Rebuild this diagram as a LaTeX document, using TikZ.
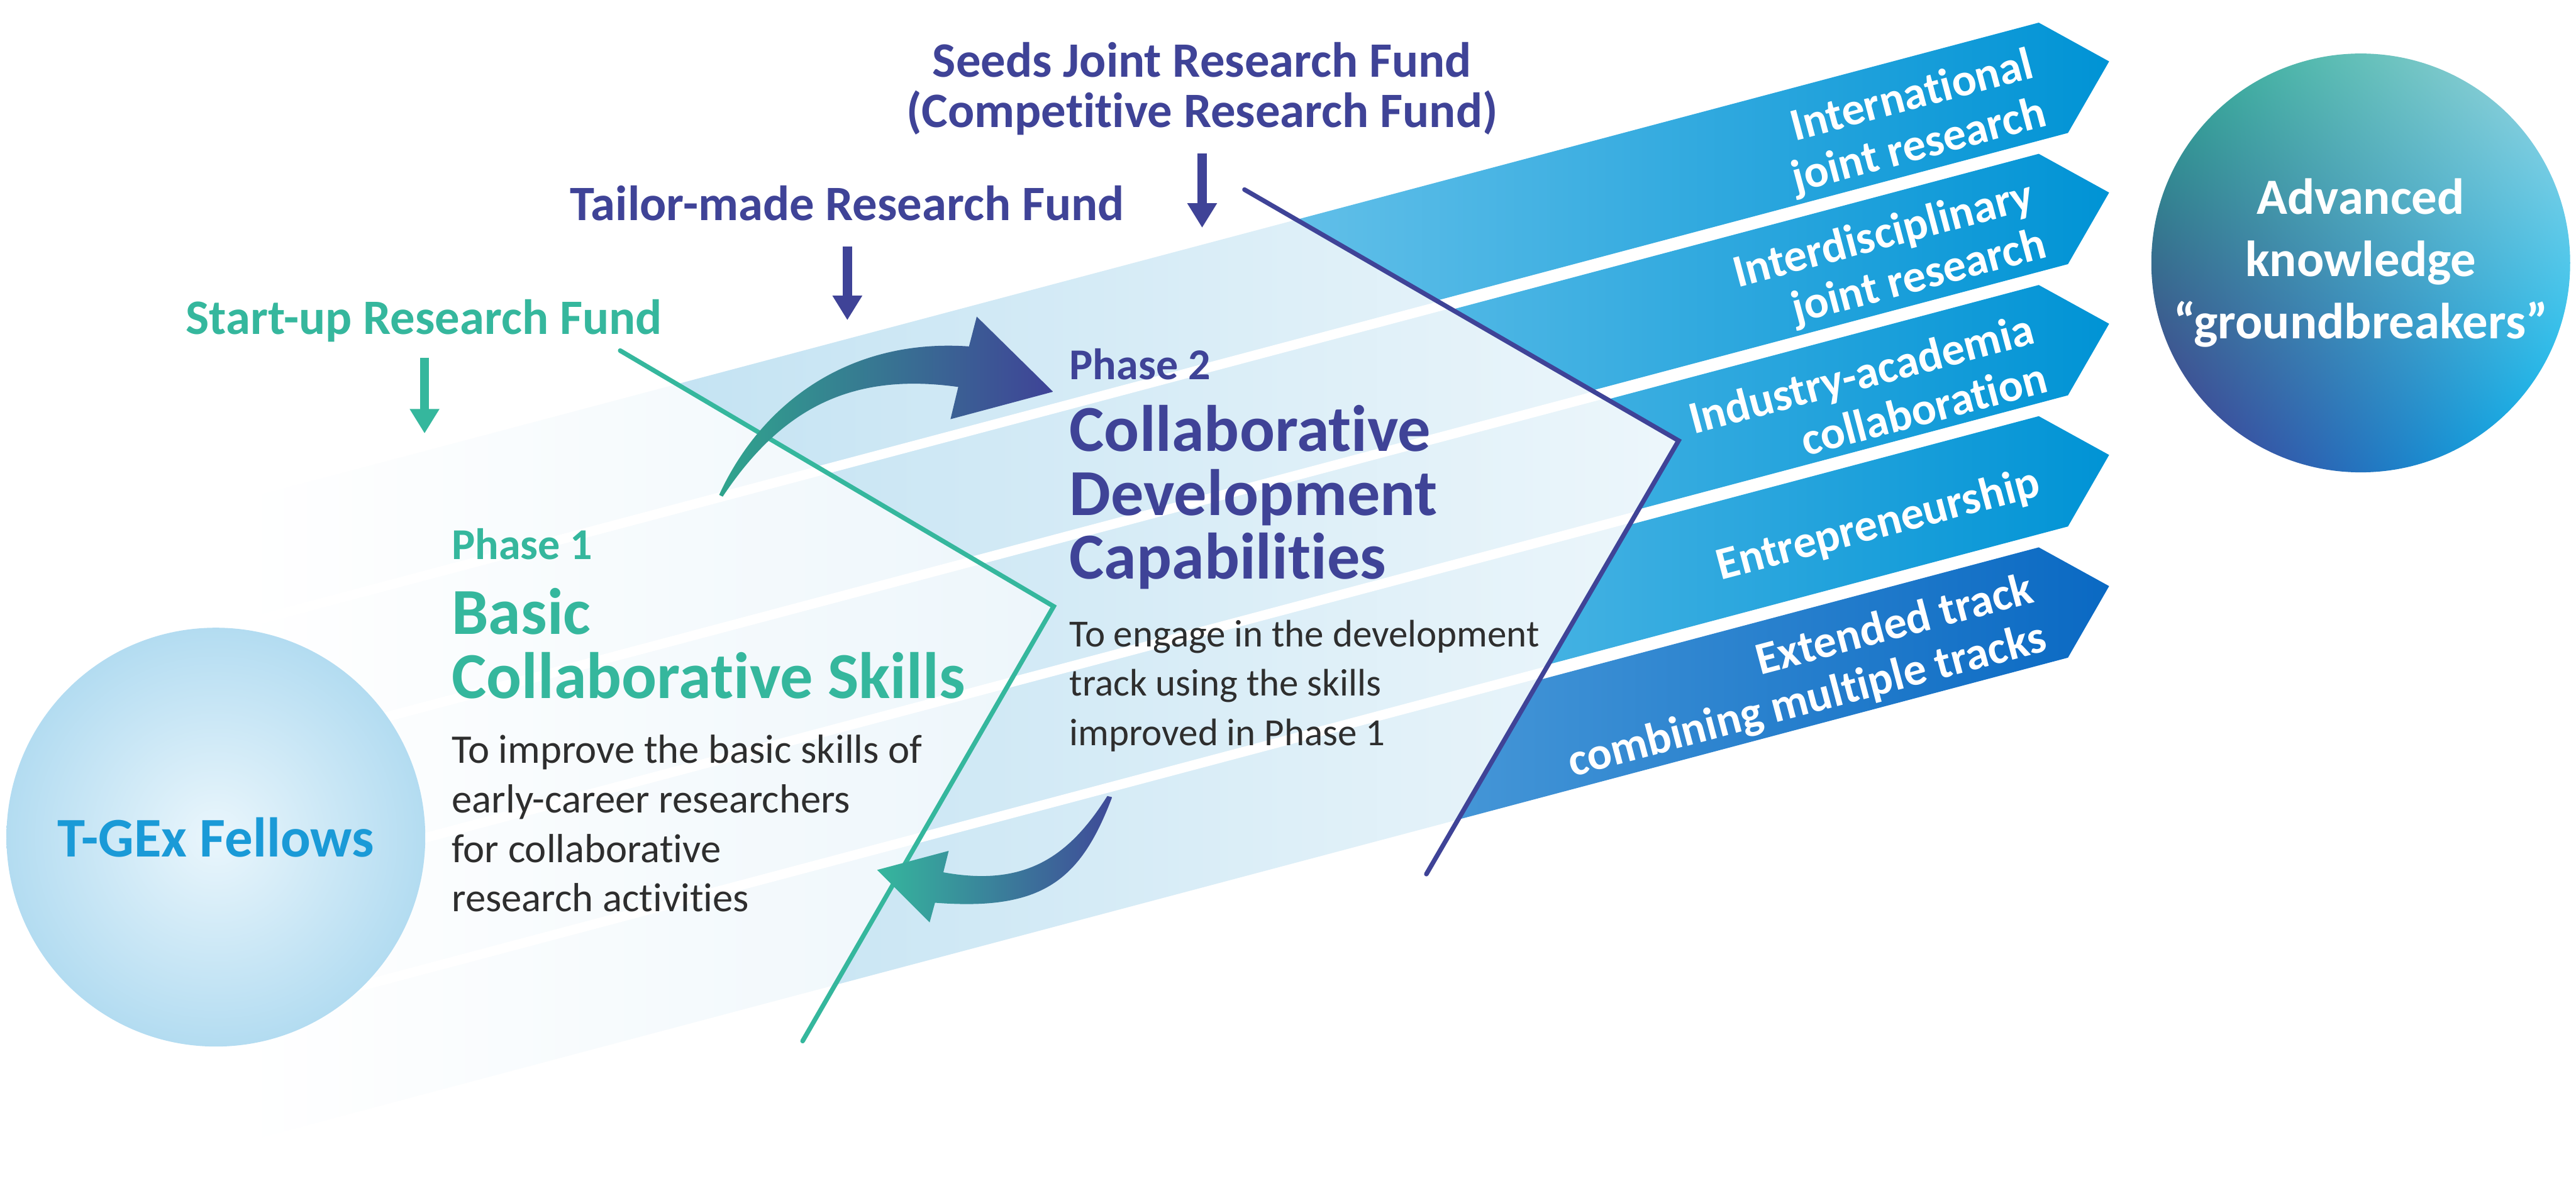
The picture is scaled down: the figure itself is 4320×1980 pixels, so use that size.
\documentclass[tikz,border=0pt]{standalone}
\usepackage{fontspec}
\setmainfont{Carlito}[Ligatures=NoCommon]
\usetikzlibrary{arrows.meta,shadings}

\definecolor{tgteal}{HTML}{35B79D}
\definecolor{tgpurple}{HTML}{3F4397}
\definecolor{tgblue}{HTML}{1A9AD7}
\definecolor{tgtext}{HTML}{2E2E2E}
\definecolor{tgpale}{HTML}{D7EBF6}
\definecolor{tglight}{HTML}{C2E2F2}
\definecolor{tgsky}{HTML}{6EC5EB}
\definecolor{tgdeep}{HTML}{0093D5}
\definecolor{tgroyal}{HTML}{0A69C3}
\definecolor{tgroyallight}{HTML}{5CA8DF}
\definecolor{tgmix}{HTML}{3C5E98}
\definecolor{tgmixb}{HTML}{36A09D}
\definecolor{tgindigo}{HTML}{3F4A98}
\definecolor{tgcore}{HTML}{EAF6FC}
\definecolor{tgrim}{HTML}{B3DCF1}
\definecolor{tggreen}{HTML}{27A98F}
\definecolor{tgmint}{HTML}{A3D8E4}
\definecolor{tgviolet}{HTML}{47308D}
\definecolor{tgcyan}{HTML}{00B7F1}

\tikzset{
  fundlabel/.style={font=\fontsize{23.6}{24.2}\selectfont\bfseries, inner sep=0pt, align=center},
  fundarrow/.style={line width=4.3pt, -{Triangle[width=13.4pt,length=11.7pt]}},
  phaselabel/.style={font=\fontsize{21}{24}\selectfont\bfseries, inner sep=0pt, anchor=base west},
  phasetitle/.style={font=\fontsize{31.3}{30.4}\selectfont\bfseries, inner sep=0pt, align=left, anchor=north west},
  phasetext/.style={text=tgtext, inner sep=0pt, align=left, anchor=north west},
  tracklabel/.style={font=\fontsize{21.9}{23.9}\selectfont\bfseries, text=white, inner sep=0pt, align=right, rotate=14.87, anchor=east},
  chevron/.style={line width=2.2pt, line cap=round},
  bandgap/.style={white, line width=4.6pt}
}

\begin{document}
\begin{tikzpicture}[x=0.01cm, y=-0.01cm]
  \useasboundingbox (0,0) rectangle (4320,1980);
  \fill[white] (0,0) rectangle (4320,1980);

  % band pack and chevron corners
  \coordinate (packTL) at (400,839.5);
  \coordinate (packTR) at (3000,149.2);
  \coordinate (packBR) at (3000,1227.3);
  \coordinate (packBL) at (400,1917.6);
  \coordinate (tealS) at (1040,588);
  \coordinate (tealV) at (1767,1017);
  \coordinate (tealE) at (1346,1746);
  \coordinate (purS) at (2087,318);
  \coordinate (purV) at (2815,739);
  \coordinate (purE) at (2392,1466);

  % phase 1 area
  \begin{scope}
    \clip (packTL) -- (packTR) -- (packBR) -- (packBL) -- cycle;
    \clip (0,0) -- (1040,0) -- (tealS) -- (tealV) -- (tealE) -- (1346,1980) -- (0,1980) -- cycle;
    \shade[left color=white, middle color=tgpale, right color=tgpale!45] (400,140) rectangle (1767,1920);
    \foreach \j in {0,...,3}
      \draw[bandgap] (300,1074.8+220*\j) -- (3000,358+220*\j);
  \end{scope}

  % phase 2 area
  \begin{scope}
    \clip (packTL) -- (packTR) -- (packBR) -- (packBL) -- cycle;
    \clip (1040,0) -- (tealS) -- (tealV) -- (tealE) -- (1346,1980) -- (2392,1980) -- (purE) -- (purV) -- (purS) -- (2087,0) -- cycle;
    \shade[left color=tglight, right color=tglight!30] (1040,140) rectangle (2815,1920);
    \foreach \j in {0,...,3}
      \draw[bandgap] (300,1074.8+220*\j) -- (3000,358+220*\j);
  \end{scope}

  % tracks
  \begin{scope}
    \clip (2087,0) -- (purS) -- (purV) -- (purE) -- (2392,1980) -- (4320,1980) -- (4320,0) -- cycle;
    \foreach \k in {0,...,3}
      \shade[left color=tgsky, right color=tgdeep]
        (2000,414.7+220*\k) -- (3419,38+220*\k) -- (3537,103+220*\k) -- (3468,223+220*\k) -- (2000,612.8+220*\k) -- cycle;
    \shade[left color=tgroyallight, right color=tgroyal]
      (2000,1294.7) -- (3419,918) -- (3537,983) -- (3468,1103) -- (2000,1492.8) -- cycle;
  \end{scope}

  \draw[chevron, tgteal] (tealS) -- (tealV) -- (tealE);
  \draw[chevron, tgpurple] (purS) -- (purV) -- (purE);

  % loop arrows
  \shade[left color=tgteal!90!black, middle color=tgmix, right color=tgpurple]
    (1206,830) .. controls (1277,675) and (1425,567) .. (1625,581) -- (1638,531) -- (1766,657)
    -- (1594,703) -- (1607,649) .. controls (1429,624) and (1311,684) .. (1212,833) -- cycle;
  \shade[left color=tgteal, middle color=tgmixb, right color=tgindigo]
    (1857,1335) .. controls (1793,1437) and (1719,1488) .. (1582,1463) -- (1591,1427) -- (1471,1459)
    -- (1559,1547) -- (1568,1514) .. controls (1748,1528) and (1812,1477) .. (1865,1337) -- cycle;

  % start and goal
  \node[circle, minimum size=7.02cm, inner sep=0pt, inner color=tgcore, outer color=tgrim,
        font=\fontsize{26.7}{30}\selectfont\bfseries, text=tgblue] (fellows) at (362,1404) {T-GEx Fellows};
  \shade[upper left=tggreen, upper right=tgmint, lower left=tgviolet, lower right=tgcyan]
    (3959,441) circle[radius=3.51cm];
  \node[font=\fontsize{24.2}{29.6}\selectfont\bfseries, text=white, align=center] (goal) at (3959,441)
    {Advanced\\knowledge\\“groundbreakers”};

  % funds
  \node[fundlabel, text=tgteal, anchor=base] (fundStart) at (711,561) {Start-up Research Fund};
  \node[fundlabel, text=tgpurple, anchor=base] (fundTailor) at (1421,370) {Tailor-made Research Fund};
  \node[fundlabel, text=tgpurple, anchor=north] (fundSeeds) at (2016,70) {Seeds Joint Research Fund\\(Competitive Research Fund)};
  \coordinate (startTop) at (712,600);
  \coordinate (startTip) at (712,727);
  \coordinate (tailorTop) at (1421,413);
  \coordinate (tailorTip) at (1421,537);
  \coordinate (seedsTop) at (2016,257);
  \coordinate (seedsTip) at (2016,382);
  \draw[fundarrow, tgteal] (startTop) -- (startTip);
  \draw[fundarrow, tgpurple] (tailorTop) -- (tailorTip);
  \draw[fundarrow, tgpurple] (seedsTop) -- (seedsTip);

  % phases
  \node[phaselabel, text=tgteal] (phaseOne) at (757,938) {Phase 1};
  \node[phasetitle, text=tgteal] (phaseOneTitle) at (757,986) {Basic\\Collaborative Skills};
  \node[phasetext, font=\fontsize{19.4}{23.6}\selectfont] (phaseOneText) at (757,1232)
    {To improve the basic skills of\\early-career researchers\\for collaborative\\research activities};
  \node[phaselabel, text=tgpurple] (phaseTwo) at (1793,636) {Phase 2};
  \node[phasetitle, text=tgpurple] (phaseTwoTitle) at (1793,679) {Collaborative\\Development\\Capabilities};
  \node[phasetext, font=\fontsize{18.3}{23.6}\selectfont] (phaseTwoText) at (1793,1039)
    {To engage in the development\\track using the skills\\improved in Phase 1};

  % track labels
  \node[tracklabel] (trackIntl) at (3420,150) {International\\joint research};
  \node[tracklabel] (trackInter) at (3420,370) {Interdisciplinary\\joint research};
  \node[tracklabel] (trackIndustry) at (3420,590) {Industry-academia\\collaboration};
  \node[tracklabel] (trackEntre) at (3420,810) {Entrepreneurship};
  \node[tracklabel] (trackExt) at (3420,1030) {Extended track\\combining multiple tracks};
\end{tikzpicture}
\end{document}
